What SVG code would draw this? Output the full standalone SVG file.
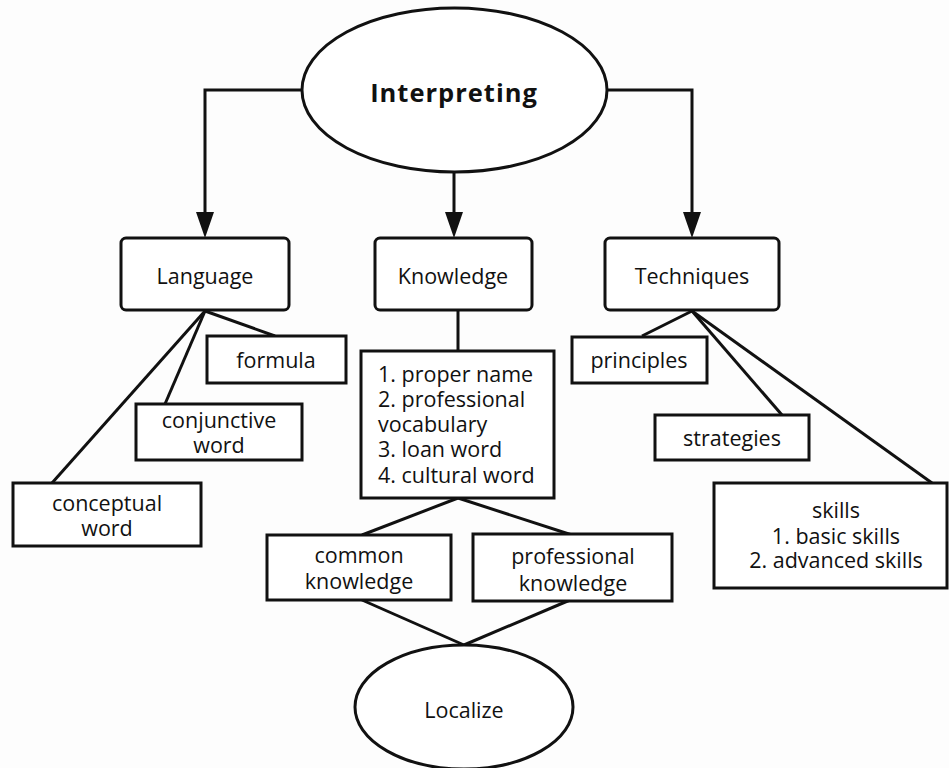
<svg xmlns="http://www.w3.org/2000/svg" width="949" height="768" viewBox="0 0 949 768">
  <style>
    .shape { fill: #ffffff; stroke: #111111; stroke-width: 3; }
    .edge { fill: none; stroke: #111111; stroke-width: 3; }
    .head { fill: #111111; }
    text { font-family: "Open Sans", "Noto Sans", "DejaVu Sans", sans-serif; font-size: 21.5px; fill: #111111; }
    .c { text-anchor: middle; }
    .title { font-weight: bold; font-size: 25.5px; letter-spacing: 1px; }
  </style>
  <rect x="0" y="0" width="949" height="768" fill="#fdfdfd"/>

  <g id="connectors">
    <!-- arrows from the root -->
    <path class="edge" d="M302,90 H205 V214"/>
    <path class="edge" d="M454,172 V214"/>
    <path class="edge" d="M607,90 H692 V214"/>
    <polygon class="head" points="196,212 214,212 205,238"/>
    <polygon class="head" points="445,212 463,212 454,238"/>
    <polygon class="head" points="683,212 701,212 692,238"/>
    <!-- Language branches -->
    <line class="edge" x1="205" y1="311" x2="275" y2="336"/>
    <line class="edge" x1="205" y1="311" x2="165" y2="404"/>
    <line class="edge" x1="205" y1="311" x2="52" y2="483"/>
    <!-- Knowledge branches -->
    <line class="edge" x1="458" y1="311" x2="458" y2="351"/>
    <line class="edge" x1="458" y1="498" x2="362" y2="535"/>
    <line class="edge" x1="458" y1="498" x2="572" y2="535"/>
    <line class="edge" x1="362" y1="600" x2="464" y2="645"/>
    <line class="edge" x1="570" y1="600" x2="464" y2="645"/>
    <!-- Techniques branches -->
    <line class="edge" x1="692" y1="311" x2="642" y2="336"/>
    <line class="edge" x1="692" y1="311" x2="782" y2="415"/>
    <line class="edge" x1="692" y1="311" x2="932" y2="483"/>
  </g>

  <g id="interpreting">
    <ellipse class="shape" cx="454.5" cy="90" rx="152.5" ry="82"/>
    <text class="c title" x="454" y="102">Interpreting</text>
  </g>

  <g id="language">
    <rect class="shape" x="121" y="238" width="168" height="72" rx="5"/>
    <text class="c" x="205" y="284">Language</text>
  </g>
  <g id="knowledge">
    <rect class="shape" x="375" y="238" width="157" height="72" rx="5"/>
    <text class="c" x="453" y="284">Knowledge</text>
  </g>
  <g id="techniques">
    <rect class="shape" x="605" y="238" width="174" height="72" rx="5"/>
    <text class="c" x="692" y="284">Techniques</text>
  </g>

  <g id="formula">
    <rect class="shape" x="207" y="336" width="139" height="47"/>
    <text class="c" x="276" y="368">formula</text>
  </g>
  <g id="conjunctive-word">
    <rect class="shape" x="136" y="404" width="166" height="56"/>
    <text class="c" x="219" y="428">conjunctive</text>
    <text class="c" x="219" y="453">word</text>
  </g>
  <g id="conceptual-word">
    <rect class="shape" x="13" y="483" width="188" height="63"/>
    <text class="c" x="107" y="511">conceptual</text>
    <text class="c" x="107" y="536">word</text>
  </g>

  <g id="knowledge-list">
    <rect class="shape" x="361" y="351" width="193" height="147"/>
    <text x="378" y="382">1. proper name</text>
    <text x="378" y="407">2. professional</text>
    <text x="378" y="432">vocabulary</text>
    <text x="378" y="457">3. loan word</text>
    <text x="378" y="483">4. cultural word</text>
  </g>
  <g id="common-knowledge">
    <rect class="shape" x="267" y="535" width="184" height="65"/>
    <text class="c" x="359" y="563">common</text>
    <text class="c" x="359" y="589">knowledge</text>
  </g>
  <g id="professional-knowledge">
    <rect class="shape" x="473" y="534" width="199" height="67"/>
    <text class="c" x="573" y="564">professional</text>
    <text class="c" x="573" y="591">knowledge</text>
  </g>
  <g id="localize">
    <ellipse class="shape" cx="464" cy="707" rx="109" ry="62"/>
    <text class="c" x="464" y="718">Localize</text>
  </g>

  <g id="principles">
    <rect class="shape" x="572" y="337" width="135" height="46"/>
    <text class="c" x="639" y="368">principles</text>
  </g>
  <g id="strategies">
    <rect class="shape" x="655" y="415" width="154" height="45"/>
    <text class="c" x="732" y="446">strategies</text>
  </g>
  <g id="skills">
    <rect class="shape" x="714" y="483" width="233" height="105"/>
    <text class="c" x="836" y="518">skills</text>
    <text class="c" x="836" y="544">1. basic skills</text>
    <text class="c" x="836" y="568">2. advanced skills</text>
  </g>
</svg>
